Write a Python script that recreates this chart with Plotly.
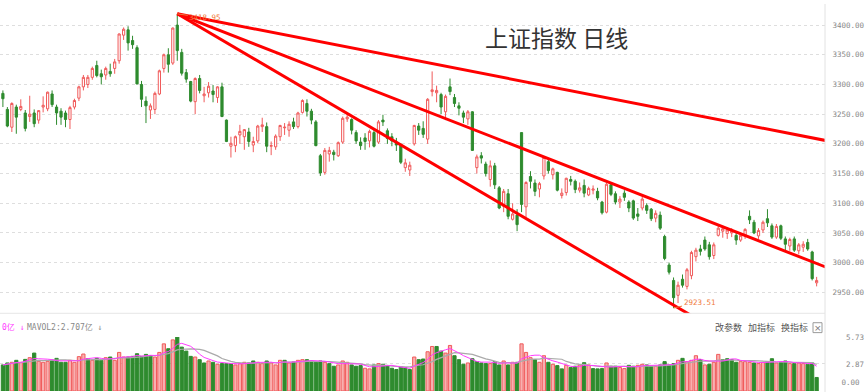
import plotly.graph_objects as go
import pandas as pd

# ---------------- data ----------------
opens = [3285,3258,3228,3262,3258,3252,3246,3252,3240,3262,
 3259,3284,3262,3255,3252,3241,3262,3277,3296,3300,
 3312,3332,3318,3316,3322,3327,3340,3383,3392,3374,
 3362,3300,3272,3257,3258,3284,3327,3350,3336,3400,
 3354,3320,3305,3271,3310,3281,3286,3289,3278,3296,
 3240,3196,3197,3215,3212,3220,3198,3205,3229,3229,
 3196,3195,3212,3227,3223,3237,3229,3253,3268,3255,
 3237,3180,3152,3183,3186,3180,3203,3242,3241,3219,
 3203,3210,3205,3219,3203,3240,3222,3212,3203,3199,
 3160,3156,3200,3230,3226,3208,3288,3286,3283,3254,
 3296,3278,3264,3252,3242,3254,3160,3180,3166,3140,
 3163,3126,3095,3116,3073,3080,3219,3094,3145,3134,
 3124,3146,3170,3148,3152,3113,3118,3140,3137,3122,
 3130,3114,3122,3120,3102,3085,3131,3116,3102,3117,
 3102,3104,3082,3092,3096,3090,3075,3080,3044,2996,
 2970,2945,2972,2960,2978,3010,3023,3038,3030,3012,
 3046,3053,3049,3050,3046,3038,3045,3078,3068,3045,
 3055,3074,3062,3043,3062,3040,3028,3040,3020,3026,
 3034,3018,2966]

highs = [3290,3262,3270,3266,3275,3257,3281,3258,3257,3280,
 3288,3290,3266,3260,3256,3264,3276,3298,3316,3316,
 3330,3340,3325,3330,3335,3343,3386,3396,3398,3382,
 3366,3306,3280,3268,3288,3325,3352,3361,3396,3418.95,
 3360,3326,3306,3312,3316,3296,3304,3299,3297,3303,
 3241,3212,3214,3232,3225,3227,3212,3232,3244,3236,
 3204,3216,3232,3235,3238,3244,3254,3275,3275,3259,
 3240,3183,3193,3195,3190,3204,3246,3250,3243,3223,
 3211,3218,3224,3225,3240,3249,3226,3218,3210,3201,
 3175,3170,3232,3235,3238,3277,3322,3298,3286,3283,
 3310,3284,3270,3256,3257,3255,3182,3186,3170,3172,
 3168,3129,3124,3124,3100,3090,3219,3137,3154,3140,
 3136,3178,3175,3160,3153,3125,3143,3146,3140,3135,
 3140,3128,3130,3126,3104,3134,3132,3120,3112,3122,
 3105,3106,3092,3112,3100,3092,3088,3086,3047,3000,
 2975,2968,2980,2991,3020,3025,3030,3044,3035,3034,
 3063,3062,3060,3058,3050,3050,3058,3088,3072,3058,
 3071,3090,3066,3065,3064,3044,3042,3044,3033,3036,
 3040,3020,2976]

lows = [3262,3228,3220,3217,3255,3221,3237,3228,3234,3253,
 3255,3262,3232,3232,3228,3225,3258,3272,3290,3294,
 3308,3312,3300,3308,3313,3318,3335,3375,3357,3360,
 3300,3262,3235,3242,3250,3282,3320,3320,3333,3340,
 3315,3303,3270,3250,3285,3270,3278,3270,3269,3245,
 3203,3177,3186,3200,3190,3195,3186,3201,3220,3186,
 3181,3190,3205,3215,3212,3225,3226,3251,3246,3233,
 3196,3146,3148,3170,3172,3178,3200,3237,3216,3200,
 3190,3190,3194,3194,3200,3230,3200,3196,3188,3166,
 3153,3146,3197,3215,3210,3200,3280,3270,3250,3240,
 3282,3262,3248,3235,3232,3188,3150,3167,3145,3128,
 3124,3090,3085,3073,3071,3053,3085,3076,3125,3112,
 3110,3140,3150,3140,3120,3108,3113,3130,3117,3118,
 3110,3112,3115,3105,3081,3083,3112,3098,3092,3104,
 3085,3072,3070,3088,3082,3070,3068,3055,3004,2980,
 2923.51,2932,2958,2955,2972,3002,3012,3020,3005,3006,
 3044,3042,3040,3043,3030,3035,3040,3065,3048,3040,
 3050,3060,3040,3040,3038,3020,3020,3018,3014,3018,
 3020,2970,2960]

closes = [3276,3230,3268,3245,3263,3226,3250,3234,3256,3265,
 3287,3266,3252,3245,3241,3261,3273,3296,3312,3312,
 3327,3315,3313,3327,3318,3338,3385,3393,3370,3367,
 3301,3275,3264,3264,3285,3323,3350,3334,3395,3357,
 3319,3309,3272,3310,3290,3284,3297,3283,3296,3246,
 3204,3201,3212,3221,3224,3204,3204,3230,3232,3196,
 3197,3213,3231,3228,3233,3229,3252,3273,3255,3240,
 3197,3151,3189,3189,3182,3202,3243,3245,3223,3205,
 3197,3204,3221,3196,3237,3237,3209,3205,3198,3169,
 3168,3164,3231,3223,3216,3275,3291,3290,3262,3280,
 3288,3268,3260,3245,3254,3189,3178,3176,3150,3163,
 3131,3092,3120,3078,3082,3064,3098,3135,3137,3120,
 3133,3177,3155,3158,3122,3117,3142,3137,3123,3126,
 3117,3125,3124,3109,3084,3132,3115,3102,3107,3110,
 3092,3075,3078,3107,3088,3074,3083,3058,3007,2984,
 2941,2962,2962,2988,3017,3021,3019,3023,3010,3030,
 3058,3057,3055,3053,3038,3046,3056,3072,3050,3054,
 3068,3067,3043,3061,3041,3031,3039,3021,3030,3031,
 3023,2973,2970]

volumes = [2.77,2.98,3.05,3.26,3.05,3.36,3.54,4.03,3.15,3.05,
 3.15,3.29,3.47,3.05,3.05,3.26,3.05,3.65,3.93,3.43,
 3.26,3.47,3.26,3.54,3.61,3.26,4.10,3.61,3.61,3.68,
 3.96,3.68,3.89,3.75,3.61,4.10,5.01,4.49,5.43,5.73,
 4.66,4.24,3.68,3.61,3.33,2.98,3.19,3.05,2.84,2.91,
 2.91,2.91,2.77,2.91,3.05,2.98,3.19,3.05,2.91,3.19,
 2.98,2.77,3.26,3.26,
 2.98,3.08,3.26,3.33,3.33,3.19,3.05,3.19,3.05,2.91,
 2.63,2.77,3.19,3.05,2.77,2.63,2.70,2.42,2.35,2.77,
 2.91,2.84,2.70,2.42,2.28,2.56,2.49,2.28,3.61,3.33,
 3.40,4.17,4.73,4.73,4.24,4.03,4.84,3.75,3.33,2.84,
 2.98,3.43,3.12,2.98,2.91,2.91,3.12,2.77,3.19,2.77,
 3.05,3.05,5.01,4.10,3.54,3.33,3.05,3.75,3.05,2.84,
 2.70,
 2.35,2.73,2.49,2.63,2.77,3.01,2.77,2.38,2.35,2.38,
 2.98,2.63,2.63,2.49,2.38,2.73,2.63,2.73,2.84,2.77,
 2.63,2.63,2.77,3.12,2.77,2.91,3.26,3.47,3.12,3.26,
 3.75,3.33,2.77,2.84,3.05,3.89,3.33,3.43,3.33,3.05,
 3.12,3.12,3.05,2.98,2.91,3.05,3.12,3.43,2.98,3.05,
 3.19,2.91,2.91,2.98,2.91,2.84,2.98,1.44]

price_ticks = [2950, 3000, 3050, 3100, 3150, 3200, 3250, 3300, 3350, 3400]
vol_ticks = [2.87, 5.73]
vol_max = 5.73
title_text = "上证指数 日线"
mavol1_tail_text = "0亿 ↓"          # only the tail of the MAVOL1 label is visible
mavol2_text = "MAVOL2:2.707亿 ↓"
menu_items = ["改参数", "加指标", "换指标"]

# hand-drawn trend lines: common start (the high) and three end points
trend_start_x, trend_start_y = 39, 3418.95
trend_end_x = [184, 184, 160]
trend_end_y = [3205.7, 2992.7, 2884.3]

assert len(opens) == len(highs) == len(lows) == len(closes) == len(volumes)
n = len(closes)
xs = list(range(n))

# ---------------- styling ----------------
RED = "#f05a5a"
RED_FILL = "#f8b0b0"
GREEN = "#2e8b2e"
MONO = "DejaVu Sans Mono, Noto Sans CJK SC"
CJK = "Noto Sans CJK SC"

W, H = 865, 392
PLOT_W = 825
price_bottom_px = 312.5
vol_top_px, vol_bottom_px = 336.5, 391.0

fig = go.Figure()

fig.add_trace(go.Candlestick(
    x=xs, open=opens, high=highs, low=lows, close=closes,
    increasing=dict(line=dict(color=RED, width=1), fillcolor="white"),
    decreasing=dict(line=dict(color=GREEN, width=1), fillcolor=GREEN),
    whiskerwidth=0, hoverinfo="none", showlegend=False,
    xaxis="x", yaxis="y"))

vol_up = [(closes[i] > closes[i - 1]) if i > 0 else (closes[0] >= opens[0]) for i in range(n)]
fig.add_trace(go.Bar(
    x=xs, y=volumes, width=0.72,
    marker=dict(color=[RED_FILL if u else GREEN for u in vol_up],
                line=dict(color=[RED if u else GREEN for u in vol_up], width=1)),
    hoverinfo="none", showlegend=False, xaxis="x2", yaxis="y2"))

vs = pd.Series(volumes)
ma1 = vs.rolling(5, min_periods=1).mean()
ma2 = vs.rolling(10, min_periods=1).mean()
fig.add_trace(go.Scatter(x=xs, y=ma2, mode="lines", line=dict(color="#aaaaaa", width=1.2),
                         hoverinfo="none", showlegend=False, xaxis="x2", yaxis="y2"))
fig.add_trace(go.Scatter(x=xs, y=ma1, mode="lines", line=dict(color="#ff3cff", width=1),
                         hoverinfo="none", showlegend=False, xaxis="x2", yaxis="y2"))

# axis ranges from pixel layout
x_lo, x_hi = -0.649, 183.87
p_top = 3400 + 21.3 / 0.6
p_bot = 3400 - (price_bottom_px - 21.3) / 0.6

fig.update_layout(
    width=W, height=H,
    margin=dict(l=0, r=W - PLOT_W, t=0, b=0, pad=0),
    paper_bgcolor="white", plot_bgcolor="white",
    showlegend=False,
    xaxis=dict(domain=[0, 1], range=[x_lo, x_hi], visible=False,
               rangeslider=dict(visible=False), fixedrange=True),
    xaxis2=dict(domain=[0, 1], range=[x_lo, x_hi], visible=False, anchor="y2",
                matches="x"),
    yaxis=dict(domain=[1 - price_bottom_px / H, 1], range=[p_bot, p_top], side="right",
               tickvals=price_ticks, ticktext=[f"{v:.2f}" for v in price_ticks],
               tickfont=dict(family=MONO, size=7.5, color="#888888"),
               ticks="outside", ticklen=5, tickcolor="rgba(0,0,0,0)",
               showgrid=True, gridcolor="#dedede", griddash="dot", gridwidth=1,
               zeroline=False, showline=False),
    yaxis2=dict(domain=[1 - vol_bottom_px / H, 1 - vol_top_px / H], range=[0, vol_max],
                side="right", anchor="x2",
                tickvals=vol_ticks,
                ticktext=["\u00a0" * (7 - len(f"{v:.2f}")) + f"{v:.2f}" for v in vol_ticks],
                tickfont=dict(family=MONO, size=7.5, color="#888888"),
                ticks="outside", ticklen=5, tickcolor="rgba(0,0,0,0)",
                showgrid=True, gridcolor="#dedede", griddash="dot", gridwidth=1,
                zeroline=False, showline=False),
)

shapes = []
# trend lines
for ex, ey in zip(trend_end_x, trend_end_y):
    shapes.append(dict(type="line", xref="x", yref="y", x0=trend_start_x, y0=trend_start_y,
                       x1=ex, y1=ey, line=dict(color="#ff0000", width=3), layer="above"))
# panel separators
shapes.append(dict(type="line", xref="paper", yref="paper", x0=1, x1=1, y0=0, y1=1,
                   line=dict(color="#e2e2e2", width=1)))
shapes.append(dict(type="line", xref="paper", yref="paper", x0=0, x1=1,
                   y0=1 - price_bottom_px / H, y1=1 - price_bottom_px / H,
                   line=dict(color="#e6e6e6", width=1)))
# close box in the indicator header
shapes.append(dict(type="rect", xref="paper", yref="paper",
                   x0=813 / PLOT_W, x1=822 / PLOT_W, y0=1 - 332 / H, y1=1 - 322 / H,
                   line=dict(color="#9a9a9a", width=1), fillcolor="white"))
fig.update_layout(shapes=shapes)

ann = []
ann.append(dict(text=title_text, xref="paper", yref="paper", x=556 / PLOT_W, y=1 - 33 / H,
                xanchor="center", yanchor="middle", showarrow=False,
                font=dict(family=CJK, size=23, color="#333333")))
# high / low markers
hi_i = max(range(n), key=lambda i: highs[i])
lo_i = min(range(n), key=lambda i: lows[i])
ann.append(dict(text=f"{highs[hi_i]:.2f}", x=hi_i, y=highs[hi_i], xref="x", yref="y",
                showarrow=True, arrowhead=0, arrowwidth=1, arrowcolor="#f07a3c",
                ax=28, ay=4, font=dict(family=MONO, size=7.5, color="#f07a3c")))
ann.append(dict(text=f"{lows[lo_i]:.2f}", x=lo_i, y=lows[lo_i], xref="x", yref="y",
                showarrow=True, arrowhead=0, arrowwidth=1, arrowcolor="#f07a3c",
                ax=26, ay=-6, font=dict(family=MONO, size=7.5, color="#f07a3c")))
# volume header
ann.append(dict(text=mavol1_tail_text, xref="paper", yref="paper", x=0, y=1 - 326 / H,
                xanchor="left", yanchor="middle", showarrow=False,
                font=dict(family=MONO, size=8, color="#ff3cff")))
ann.append(dict(text=mavol2_text, xref="paper", yref="paper", x=25 / PLOT_W, y=1 - 326 / H,
                xanchor="left", yanchor="middle", showarrow=False,
                font=dict(family=MONO, size=8, color="#888888")))
for k, item in enumerate(menu_items):
    ann.append(dict(text=item, xref="paper", yref="paper", x=(713 + 33 * k) / PLOT_W,
                    y=1 - 327 / H, xanchor="left", yanchor="middle", showarrow=False,
                    font=dict(family=CJK, size=9, color="#555555")))
ann.append(dict(text="×", xref="paper", yref="paper", x=817.5 / PLOT_W, y=1 - 327 / H,
                xanchor="center", yanchor="middle", showarrow=False,
                font=dict(family="DejaVu Sans", size=9, color="#777777")))
# zero label of the volume axis, lifted to stay inside the picture
ann.append(dict(text="\u00a0\u00a0\u00a00.00", xref="paper", yref="y2", x=1 + 37 / PLOT_W, y=0,
                xanchor="right", yanchor="bottom", yshift=2, showarrow=False,
                font=dict(family=MONO, size=7.5, color="#888888")))
fig.update_layout(annotations=ann)

fig.write_html("out.html", config={"displayModeBar": False},
               post_script="document.body.style.margin='0';document.body.style.overflow='hidden';")
